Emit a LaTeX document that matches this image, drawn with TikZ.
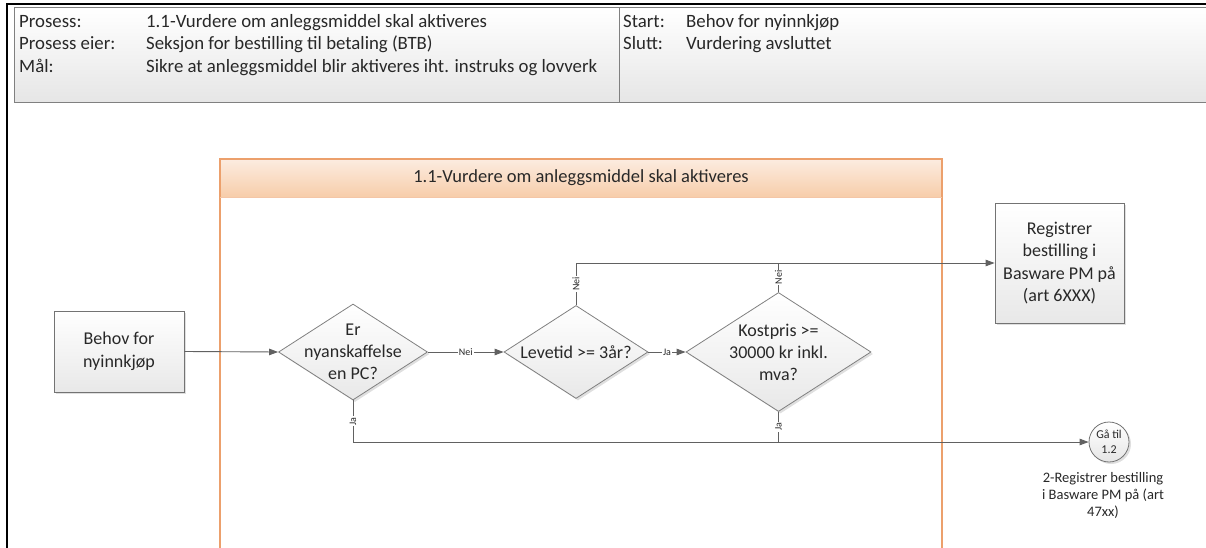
\documentclass[tikz,border=0pt]{standalone}
\usepackage{fontspec}
\setmainfont{Carlito}
\usetikzlibrary{shapes.geometric,arrows.meta,shadows}
\definecolor{lanebd}{RGB}{236,160,108}
\definecolor{lanetop}{RGB}{252,236,224}
\definecolor{lanebot}{RGB}{247,205,170}
\definecolor{txt}{RGB}{40,40,40}
\begin{document}
\begin{tikzpicture}[x=1pt,y=-1pt,
  shad/.style={drop shadow={shadow xshift=2pt,shadow yshift=-2pt,opacity=0.25}},
  box/.style={rectangle,draw=black!55,line width=0.8pt,top color=white,bottom color=black!9,shad,
    align=center,text=txt,font=\fontsize{18}{23}\selectfont,inner sep=0pt},
  dec/.style={diamond,draw=black!50,line width=0.8pt,top color=white,bottom color=black!9,shad,inner sep=0pt},
  dtext/.style={align=center,text=txt,font=\fontsize{18}{22}\selectfont,inner sep=0pt},
  conn/.style={draw=black!62,line width=0.9pt},
  arr/.style={conn,-{Triangle[length=9pt,width=6.5pt]}},
  lbl/.style={fill=white,inner sep=1pt,text=txt,font=\fontsize{10}{11}\selectfont},
  hdr/.style={anchor=base west,text=txt,font=\fontsize{18.8}{20}\selectfont,inner sep=0pt}
]
\useasboundingbox (0,0) rectangle (1206,548);
% outer frame
\draw[line width=2pt,black] (7,548) -- (7,4) -- (1206,4);
% header box
\shade[top color=white,bottom color=black!10] (14,8) rectangle (1206,103);
\draw[black!50,line width=1pt] (1206,8) -- (14,8) -- (14,103) -- (1206,103);
\draw[black!50,line width=1pt] (619,8) -- (619,103);
\node[hdr] (h1) at (19,28) {Prosess:};
\node[hdr] (h2) at (19,50) {Prosess eier:};
\node[hdr] (h3) at (19,73) {Mål:};
\node[hdr] (v1) at (146,28) {1.1-Vurdere om anleggsmiddel skal aktiveres};
\node[hdr] (v2) at (146,50) {Seksjon for bestilling til betaling (BTB)};
\node[hdr] (v3) at (146,73) {Sikre at anleggsmiddel blir aktiveres iht. instruks og lovverk};
\node[hdr] (h4) at (623,28) {Start:};
\node[hdr] (h5) at (623,50) {Slutt:};
\node[hdr] (v4) at (686,28) {Behov for nyinnkjøp};
\node[hdr] (v5) at (686,50) {Vurdering avsluttet};
% swimlane
\shade[top color=lanetop,bottom color=lanebot] (220,159) rectangle (942,197);
\draw[lanebd,line width=1.2pt] (220,548) -- (220,159) -- (942,159) -- (942,548);
\draw[lanebd!60,line width=0.6pt] (220,197) -- (942,197);
\node[text=txt,font=\fontsize{18.5}{20}\selectfont] (lane) at (581,178) {1.1-Vurdere om anleggsmiddel skal aktiveres};
% nodes
\node[box,minimum width=130pt,minimum height=81pt] (start) at (119,351.5) {Behov for\\nyinnkjøp};
\node[dec,minimum width=149pt,minimum height=96pt,
  label={[dtext]center:Er\\nyanskaffelse\\en PC?}] (d1) at (353,352) {};
\node[dec,minimum width=144pt,minimum height=93pt,
  label={[dtext]center:Levetid >= 3år?}] (d2) at (576,352) {};
\node[dec,minimum width=185pt,minimum height=119pt,
  label={[dtext]center:Kostpris >=\\30000 kr inkl.\\mva?}] (d3) at (778.5,352) {};
\node[box,minimum width=129pt,minimum height=120pt,font=\fontsize{18}{22.5}\selectfont] (reg) at (1059.5,263) {Registrer\\bestilling i\\Basware PM på\\(art 6XXX)};
\node[circle,draw=black!55,line width=0.8pt,top color=white,bottom color=black!10,shad,minimum size=40pt,inner sep=0pt,
  align=center,text=txt,font=\fontsize{12}{15}\selectfont] (goto) at (1109,442) {Gå til\\1.2};
\node[align=center,text=txt,font=\fontsize{14.5}{17}\selectfont] (gotolbl) at (1103,495) {2-Registrer bestilling\\i Basware PM på (art\\47xx)};
% connectors
\draw[arr] (start.east) -- (d1.west);
\draw[arr] (d1.east) -- node[lbl]{Nei} (d2.west);
\draw[arr] (d2.east) -- node[lbl]{Ja} (d3.west);
\draw[arr] (d2.north) |- node[lbl,rotate=90,pos=0.25]{Nei} (reg.west);
\draw[conn] (d3.north) -- node[lbl,rotate=90]{Nei} (d3.north |- reg.west);
\draw[arr] (d1.south) |- node[lbl,rotate=90,pos=0.25]{Ja} (goto.west);
\draw[conn] (d3.south) -- node[lbl,rotate=90]{Ja} (d3.south |- goto.west);
\end{tikzpicture}
\end{document}
